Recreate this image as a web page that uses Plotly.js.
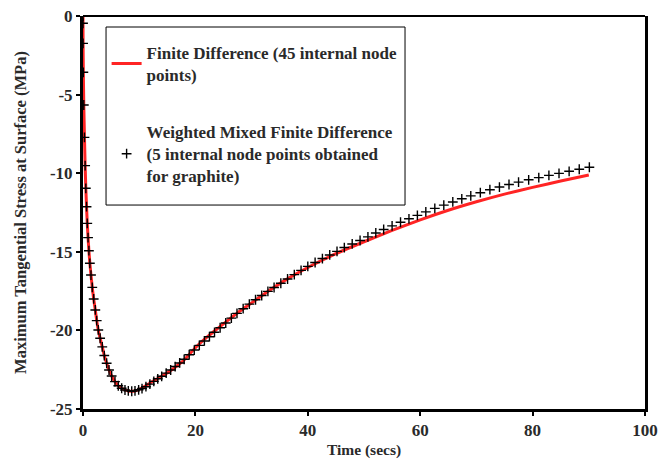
<!DOCTYPE html>
<html>
<head>
<meta charset="utf-8">
<script src="https://cdn.plot.ly/plotly-3.0.1.min.js"></script>
<style>html,body{margin:0;padding:0;background:#fff;}#chart{width:660px;height:461px;}</style>
</head>
<body>
<div id="chart"></div>
<script>
// Finite Difference (45 internal node points) — solid red line
var fdTime = [0, 0.003, 0.015, 0.06, 0.14, 0.26, 0.38, 0.5, 0.63, 0.76, 0.9, 1.05, 1.22, 1.42, 1.65, 1.9, 2.19, 2.44, 2.72, 3.05, 3.43, 3.79, 4.21, 4.63, 5.1, 5.69, 6.28, 6.88, 7.47, 8.06, 8.67, 9.25, 10, 11, 12.5, 14, 16, 18, 20, 22, 24, 26, 28, 30, 33, 36, 40, 45, 50, 55, 60, 65, 70, 75, 80, 85, 90];
var fdStress = [0, -0.46, -1.74, -3.58, -5.66, -7.72, -9.52, -10.96, -12.13, -13.19, -14.1, -14.93, -15.73, -16.48, -17.26, -18.0, -18.7, -19.38, -19.97, -20.5, -21.05, -21.6, -22.09, -22.52, -22.9, -23.26, -23.52, -23.68, -23.79, -23.85, -23.87, -23.85, -23.75, -23.55, -23.22, -22.92, -22.45, -21.88, -21.1, -20.45, -19.87, -19.3, -18.75, -18.25, -17.5, -16.8, -16.0, -15.12, -14.36, -13.64, -12.97, -12.36, -11.82, -11.33, -10.9, -10.5, -10.12];

// Weighted Mixed Finite Difference (5 internal node points) — "+" markers
var wmTime = [0, 0.003, 0.015, 0.06, 0.14, 0.26, 0.38, 0.5, 0.63, 0.76, 0.9, 1.05, 1.22, 1.42, 1.65, 1.9, 2.19, 2.44, 2.72, 3.05, 3.43, 3.79, 4.21, 4.63, 5.1, 5.69, 6.28, 6.88, 7.47, 8.06, 8.67, 9.25,
  9.9, 10.5, 11.2, 11.9, 12.6, 13.3, 14.0, 14.8, 15.6, 16.4, 17.2, 18.0, 18.9, 19.8, 20.7, 21.6, 22.5, 23.4, 24.4, 25.4, 26.4, 27.4, 28.5, 29.6, 30.7, 31.8, 32.9, 34.0, 35.2, 36.4, 37.6, 38.8, 40.0, 41.3, 42.6, 43.9, 45.2, 46.5, 47.9, 49.3, 50.7, 52.1, 53.5, 55.0, 56.5, 58.0, 59.5, 61.0, 62.6, 64.2, 65.8, 67.4, 69.0, 70.7, 72.4, 74.1, 75.8, 77.5, 79.3, 81.1, 82.9, 84.7, 86.5, 88.3, 90.1];
var wmStress = [0, -0.46, -1.74, -3.58, -5.66, -7.72, -9.52, -10.96, -12.13, -13.19, -14.1, -14.93, -15.73, -16.48, -17.26, -18.0, -18.7, -19.38, -19.97, -20.5, -21.05, -21.6, -22.09, -22.52, -22.9, -23.26, -23.52, -23.68, -23.79, -23.85, -23.87, -23.85,
  -23.78, -23.7, -23.58, -23.42, -23.24, -23.08, -22.92, -22.72, -22.52, -22.3, -22.07, -21.84, -21.55, -21.25, -20.95, -20.67, -20.4, -20.12, -19.83, -19.53, -19.22, -18.92, -18.62, -18.33, -18.05, -17.78, -17.52, -17.27, -17.0, -16.73, -16.45, -16.18, -15.93, -15.68, -15.43, -15.2, -14.97, -14.73, -14.5, -14.28, -14.05, -13.8, -13.58, -13.35, -13.12, -12.9, -12.68, -12.46, -12.24, -12.03, -11.83, -11.63, -11.44, -11.24, -11.05, -10.88, -10.72, -10.57, -10.42, -10.28, -10.14, -10.01, -9.88, -9.75, -9.62];

var xTicks = [0, 20, 40, 60, 80, 100];
var yTicks = [0, -5, -10, -15, -20, -25];

var fontFam = "'Liberation Serif', 'Times New Roman', serif";
var txtColor = '#2a2a2a';

var traces = [
  {
    x: fdTime, y: fdStress, type: 'scatter', mode: 'lines',
    name: 'Finite Difference (45 internal node<br>points)',
    line: {color: '#ff2424', width: 3, shape: 'spline', smoothing: 0.6},
    legendgroup: 'a'
  },
  {
    x: wmTime, y: wmStress, type: 'scatter', mode: 'markers',
    name: 'Weighted Mixed Finite Difference<br>(5 internal node points obtained<br>for graphite)',
    marker: {symbol: 'cross-thin', size: 7, color: '#000', line: {color: '#000', width: 1.4}},
    legendgroup: 'b'
  }
];

var layout = {
  width: 660, height: 461,
  margin: {l: 83, r: 15, t: 16, b: 52},
  paper_bgcolor: '#fff', plot_bgcolor: '#fff',
  font: {family: fontFam, color: txtColor, size: 16},
  showlegend: true,
  legend: {
    x: 0.042, y: 0.952, xanchor: 'left', yanchor: 'top',
    borderwidth: 0, bgcolor: 'rgba(0,0,0,0)',
    font: {family: fontFam, size: 17, weight: 'bold', color: txtColor},
    tracegroupgap: 32, traceorder: 'grouped', itemwidth: 30
  },
  xaxis: {
    range: [0, 100], tickvals: xTicks, ticktext: xTicks.map(String),
    showgrid: false, zeroline: false,
    showline: true, linecolor: '#000', linewidth: 3, mirror: false,
    ticks: 'outside', ticklen: 4, tickwidth: 2, tickcolor: '#000',
    tickfont: {family: fontFam, size: 17, weight: 'bold', color: txtColor},
    title: {text: 'Time (secs)', font: {family: fontFam, size: 15.5, weight: 'bold', color: txtColor}, standoff: 5}
  },
  yaxis: {
    range: [-25, 0], tickvals: yTicks, ticktext: yTicks.map(String),
    showgrid: false, zeroline: false,
    showline: true, linecolor: '#000', linewidth: 3, mirror: true,
    ticks: 'outside', ticklen: 4, tickwidth: 2, tickcolor: '#000',
    tickfont: {family: fontFam, size: 17, weight: 'bold', color: txtColor},
    title: {text: 'Maximum Tangential Stress at Surface (MPa)', font: {family: fontFam, size: 16.5, weight: 'bold', color: txtColor}, standoff: 20}
  },
  shapes: [
    {type: 'line', xref: 'paper', yref: 'paper', x0: 0, x1: 1, y0: 1, y1: 1, line: {color: '#000', width: 2}},
    {type: 'rect', xref: 'paper', yref: 'paper', x0: 0.041, x1: 0.573, y0: 0.519, y1: 0.972, line: {color: '#000', width: 1}, fillcolor: 'rgba(0,0,0,0)', layer: 'above'}
  ]
};

Plotly.newPlot('chart', traces, layout, {displayModeBar: false, staticPlot: true});
</script>
</body>
</html>
